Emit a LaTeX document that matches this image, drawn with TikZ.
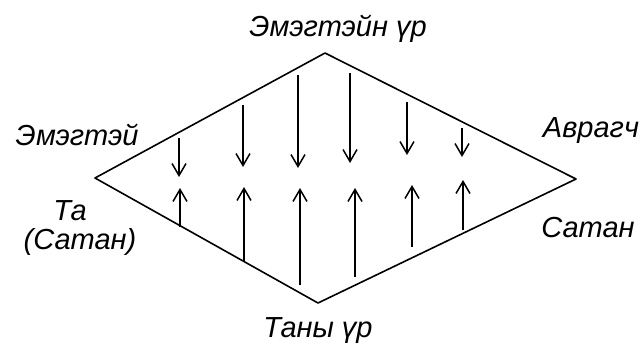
\documentclass[tikz,border=0pt]{standalone}
\usepackage{fontspec}
\setmainfont{Liberation Sans}
\usetikzlibrary{arrows.meta}
\tikzset{
  edge/.style={line width=1.6pt, line cap=round, line join=round},
  seedarrow/.style={line width=1.5pt, -{Straight Barb[length=12pt,width=14pt]}},
  lbl/.style={font=\fontsize{29}{32}\selectfont\itshape, inner sep=0pt, anchor=base},
}
\begin{document}
\begin{tikzpicture}[x=1pt,y=-1pt]
\useasboundingbox (0,0) rectangle (644,357);
% diamond corners
\coordinate (L) at (95,178);
\coordinate (T) at (325,53);
\coordinate (R) at (576,179);
\coordinate (B) at (318,303);
\draw[edge] (L) -- (T) -- (R) -- (B) -- cycle;
% downward arrows
\foreach \i/\x/\a/\b in {1/179/138/177, 2/243/105/167, 3/298/75/168, 4/350/73/163, 5/407/102/155, 6/462/128/157}{
  \coordinate (d\i s) at (\x,\a);
  \coordinate (d\i e) at (\x,\b);
  \draw[seedarrow] (d\i s) -- (d\i e);
}
% upward arrows
\foreach \i/\x/\a/\b in {1/180/227/188, 2/244/262/187, 3/300/285/188, 4/355/277/188, 5/412/247/185, 6/463/230/180}{
  \coordinate (u\i s) at (\x,\a);
  \coordinate (u\i e) at (\x,\b);
  \draw[seedarrow] (u\i s) -- (u\i e);
}
% labels
\node[lbl] (ltop) at (338,36) {Эмэгтэйн үр};
\node[lbl] (lwoman) at (77,145) {Эмэгтэй};
\node[lbl] (lyou) at (70,220) {Та};
\node[lbl] (lsatan1) at (80,249) {(Сатан)};
\node[lbl] (lsavior) at (591,137) {Аврагч};
\node[lbl] (lsatan2) at (588,237) {Сатан};
\node[lbl] (lbottom) at (318,337) {Таны үр};
\end{tikzpicture}
\end{document}
